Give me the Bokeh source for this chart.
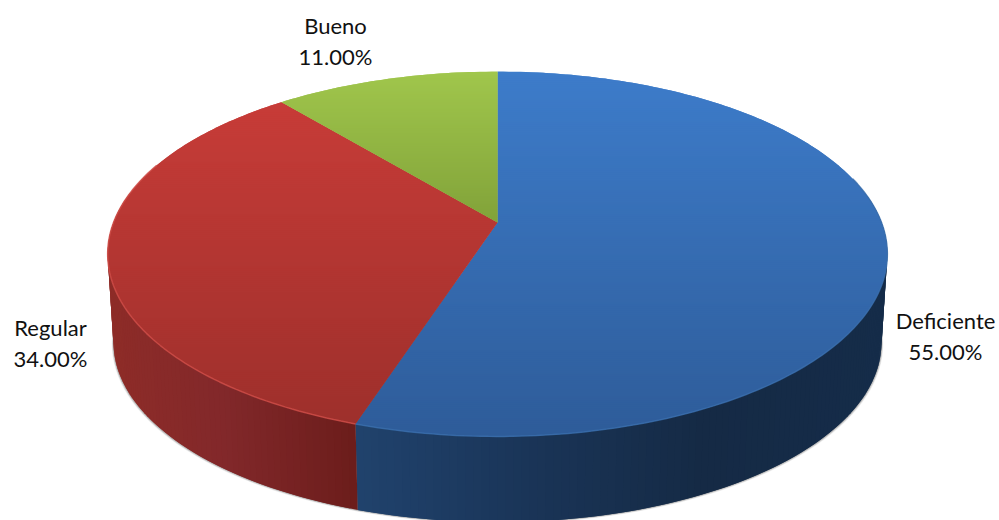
import math
from bokeh.plotting import figure
from bokeh.models import ColumnDataSource, Range1d
from bokeh.core.properties import value
from bokeh.embed import file_html
from bokeh.resources import INLINE

categories = ["Deficiente", "Regular", "Bueno"]
shares = [55.0, 34.0, 11.0]

# vertical gradient of each top face (colour at y=71 and at y=436)
top_start = ["#3d7cca", "#cb3d39", "#a0c64c"]
top_end = ["#2e5c99", "#9c2f2b", "#56701f"]
# horizontal gradient of the side walls: (x, colour) stops
side_stops = [
    [(357, "#20426c"), (520, "#1a3558"), (700, "#152a45"), (890, "#152c49")],
    [(105, "#8e2c28"), (220, "#82282a"), (360, "#6a1c1a")],
    [(0, "#56701f"), (999, "#56701f")],
]
rim_colors = ["#3a6eac", "#d04d48", "#a0c64c"]

label_pos = [(945, 320), (50, 327), (335, 25)]

# projection of the disc
CX, APEX_Y, A, D, C = 497.0, 222.0, 177.0, 384.0, 0.1726
LOW_APEX_Y, LOW_SCALE = 311.0, 0.985


def project(deg, apex=APEX_Y, scale=1.0):
    t = math.radians(deg)
    u, v = math.sin(t), math.cos(t)
    den = 1 + C * v
    return CX + scale * D * u / den, apex - scale * A * v / den


def hex2rgb(h):
    return tuple(int(h[i:i + 2], 16) for i in (1, 3, 5))


def mix(c0, c1, f):
    f = max(0.0, min(1.0, f))
    a, b = hex2rgb(c0), hex2rgb(c1)
    return "#%02x%02x%02x" % tuple(round(a[i] + (b[i] - a[i]) * f) for i in range(3))


def stop_color(stops, x):
    if x <= stops[0][0]:
        return stops[0][1]
    for (x0, c0), (x1, c1) in zip(stops, stops[1:]):
        if x <= x1:
            return mix(c0, c1, (x - x0) / (x1 - x0))
    return stops[-1][1]


def clip_band(pts, y0, y1):
    def clip(poly, keep, cross):
        out = []
        for i, p in enumerate(poly):
            q = poly[(i + 1) % len(poly)]
            if keep(p):
                out.append(p)
            if keep(p) != keep(q):
                out.append(cross(p, q))
        return out

    def at(yc):
        return lambda p, q: (p[0] + (q[0] - p[0]) * (yc - p[1]) / (q[1] - p[1]), yc)

    r = clip(pts, lambda p: p[1] >= y0, at(y0))
    if r:
        r = clip(r, lambda p: p[1] <= y1, at(y1))
    return r


# slice angles, clockwise from 12 o'clock
total = sum(shares)
edges = [0.0]
for s in shares:
    edges.append(edges[-1] + 360.0 * s / total)

p = figure(width=999, height=520, output_backend="svg", toolbar_location=None,
           x_range=Range1d(0, 999), y_range=Range1d(520, 0), min_border=0,
           outline_line_color=None, background_fill_color="#ffffff", border_fill_color="#ffffff")
p.axis.visible = False
p.grid.visible = False

# soft shadow under the lower rim
for off, alpha in [(3.5, 0.10), (2.5, 0.15), (1.5, 0.25)]:
    xs, ys = [], []
    for d in range(80, 281, 2):
        x, y = project(d, LOW_APEX_Y, LOW_SCALE)
        xs.append(x + (-off if d > 180 else off) * 0.5)
        ys.append(y + off * 0.4)
    p.patch(xs, ys, fill_color="#555555", fill_alpha=alpha, line_color=None)

# side wall: each strip overlaps the next one so no seams show
wx, wy, wc = [], [], []
for i, (a0, a1) in enumerate(zip(edges, edges[1:])):
    d0, d1 = max(a0, 80.0), min(a1, 280.0)
    d = d0
    while d < d1:
        e = min(d + 1.0, d1)
        f = min(e + 1.0, d1)
        x0, y0 = project(d)
        x1, y1 = project(f)
        x2, y2 = project(f, LOW_APEX_Y, LOW_SCALE)
        x3, y3 = project(d, LOW_APEX_Y, LOW_SCALE)
        wx.append([x0, x1, x2, x3])
        wy.append([y0, y1, y2, y3])
        wc.append(stop_color(side_stops[i], (x0 + x1) / 2))
        d = e
p.patches("xs", "ys", fill_color="color", line_color=None,
          source=ColumnDataSource(dict(xs=wx, ys=wy, color=wc)))

# top faces, split in bands for the vertical gradient; each band overlaps the next
bx, by, bc = [], [], []
BAND = 2.0
for i, (a0, a1) in enumerate(zip(edges, edges[1:])):
    n = max(2, int(a1 - a0))
    poly = [(CX, APEX_Y)] + [project(a0 + (a1 - a0) * k / n) for k in range(n + 1)]
    y = 70.0
    while y < 438:
        part = clip_band(poly, y, y + BAND + 2.0)
        if len(part) >= 3:
            bx.append([q[0] for q in part])
            by.append([q[1] for q in part])
            bc.append(mix(top_start[i], top_end[i], (y + BAND / 2 - 71) / 365.0))
        y += BAND
p.patches("xs", "ys", fill_color="color", line_color=None,
          source=ColumnDataSource(dict(xs=bx, ys=by, color=bc)))

# light rim along the front edge
for i, (a0, a1) in enumerate(zip(edges, edges[1:])):
    d0, d1 = max(a0, 75.0), min(a1, 290.0)
    if d1 > d0:
        n = int(d1 - d0) + 1
        rim = [project(d0 + (d1 - d0) * k / n) for k in range(n + 1)]
        p.line([q[0] for q in rim], [q[1] for q in rim], line_color=rim_colors[i],
               line_width=1.5, line_alpha=0.8)

# labels
tx, ty, tt = [], [], []
for name, s, (x, y) in zip(categories, shares, label_pos):
    tx += [x, x]
    ty += [y, y + 31]
    tt += [name, f"{s:.2f}%"]
p.text(tx, ty, text=tt, text_font=value("Lato"), text_font_size="22px",
       text_color="#111111", text_align="center", text_baseline="middle")

open("out.html", "w").write(file_html(p, INLINE))
